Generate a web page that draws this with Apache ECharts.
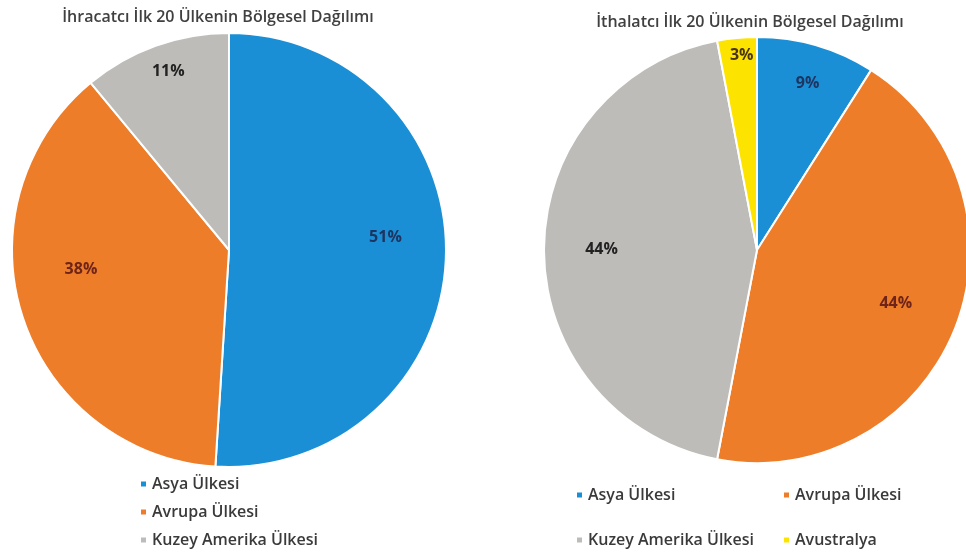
<!DOCTYPE html>
<html>
<head>
<meta charset="utf-8">
<title>Bölgesel Dağılım</title>
<script src="https://cdn.jsdelivr.net/npm/echarts@6/dist/echarts.min.js"></script>
<style>
    html, body { margin: 0; padding: 0; background: #fff; }
    #chart { width: 966px; height: 557px; }
</style>
</head>
<body>
<div id="chart"></div>
<script>
// data
const exportRegions = ['Asya Ülkesi', 'Avrupa Ülkesi', 'Kuzey Amerika Ülkesi']
const exportShares = [51, 38, 11]
const importRegions = ['Asya Ülkesi', 'Avrupa Ülkesi', 'Kuzey Amerika Ülkesi', 'Avustralya']
const importShares = [9, 44, 44, 3]

const colors = {
    'Asya Ülkesi': '#1b8fd6',
    'Avrupa Ülkesi': '#ee7d2a',
    'Kuzey Amerika Ülkesi': '#bdbcb8',
    'Avustralya': '#fce400'
}
const labelColors = {
    'Asya Ülkesi': '#1e3561',
    'Avrupa Ülkesi': '#6e2418',
    'Kuzey Amerika Ülkesi': '#222',
    'Avustralya': '#4a3510'
}

const font = '"Open Sans", "DejaVu Sans", sans-serif'

// nudge labels from the middle of the slice out to where Excel put them
const exportOffsets = [[45, -16], [-42, -15], [-23, -74]]
const importOffsets = [[20, -61], [37, 13], [-46, -1], [-5, -86]]

function pieData(names, values, offsets) {
    return names.map((name, i) => ({
        name: name,
        value: values[i],
        itemStyle: { color: colors[name] },
        label: { color: labelColors[name], offset: offsets[i] }
    }))
}

const pieBase = {
    type: 'pie',
    startAngle: 90,
    clockwise: true,
    avoidLabelOverlap: false,
    silent: true,
    itemStyle: {
        borderColor: '#fff',
        borderWidth: 2
    },
    label: {
        show: true,
        position: 'inside',
        fontFamily: font,
        fontWeight: 'bold',
        fontSize: 16,
        formatter: '{c}%'
    },
    labelLine: { show: false },
    emphasis: { disabled: true }
}

const legendText = {
    color: '#3a3a3a',
    fontSize: 16,
    lineHeight: 16,
    fontFamily: font,
    fontWeight: 600
}

function legendCol(left, top, gap, names) {
    return {
        orient: 'vertical',
        left: left,
        top: top,
        padding: 0,
        icon: 'rect',
        itemWidth: 7,
        itemHeight: 7,
        itemGap: gap,
        selectedMode: false,
        textStyle: legendText,
        data: names
    }
}

const myChart = echarts.init(document.getElementById('chart'))
const option = {
    animation: false,
    title: [
        {
            text: 'İhracatcı İlk 20 Ülkenin Bölgesel Dağılımı',
            left: 213,
            top: 4,
            textAlign: 'center',
            textStyle: { color: '#404040', fontSize: 16, fontWeight: 600, fontFamily: font }
        },
        {
            text: 'İthalatcı İlk 20 Ülkenin Bölgesel Dağılımı',
            left: 745,
            top: 9,
            textAlign: 'center',
            textStyle: { color: '#404040', fontSize: 16, fontWeight: 600, fontFamily: font }
        }
    ],
    legend: [
        legendCol(139, 476, 12, exportRegions),
        legendCol(575, 487, 29, [importRegions[0], importRegions[2]]),
        legendCol(782, 487, 29, [importRegions[1], importRegions[3]])
    ],
    series: [
        Object.assign({}, pieBase, {
            name: 'İhracatcı',
            center: [229, 250],
            radius: [0, 217],
            data: pieData(exportRegions, exportShares, exportOffsets)
        }),
        Object.assign({}, pieBase, {
            name: 'İthalatcı',
            center: [757, 250],
            radius: [0, 213],
            data: pieData(importRegions, importShares, importOffsets)
        })
    ]
}

myChart.setOption(option)
</script>
</body>
</html>
